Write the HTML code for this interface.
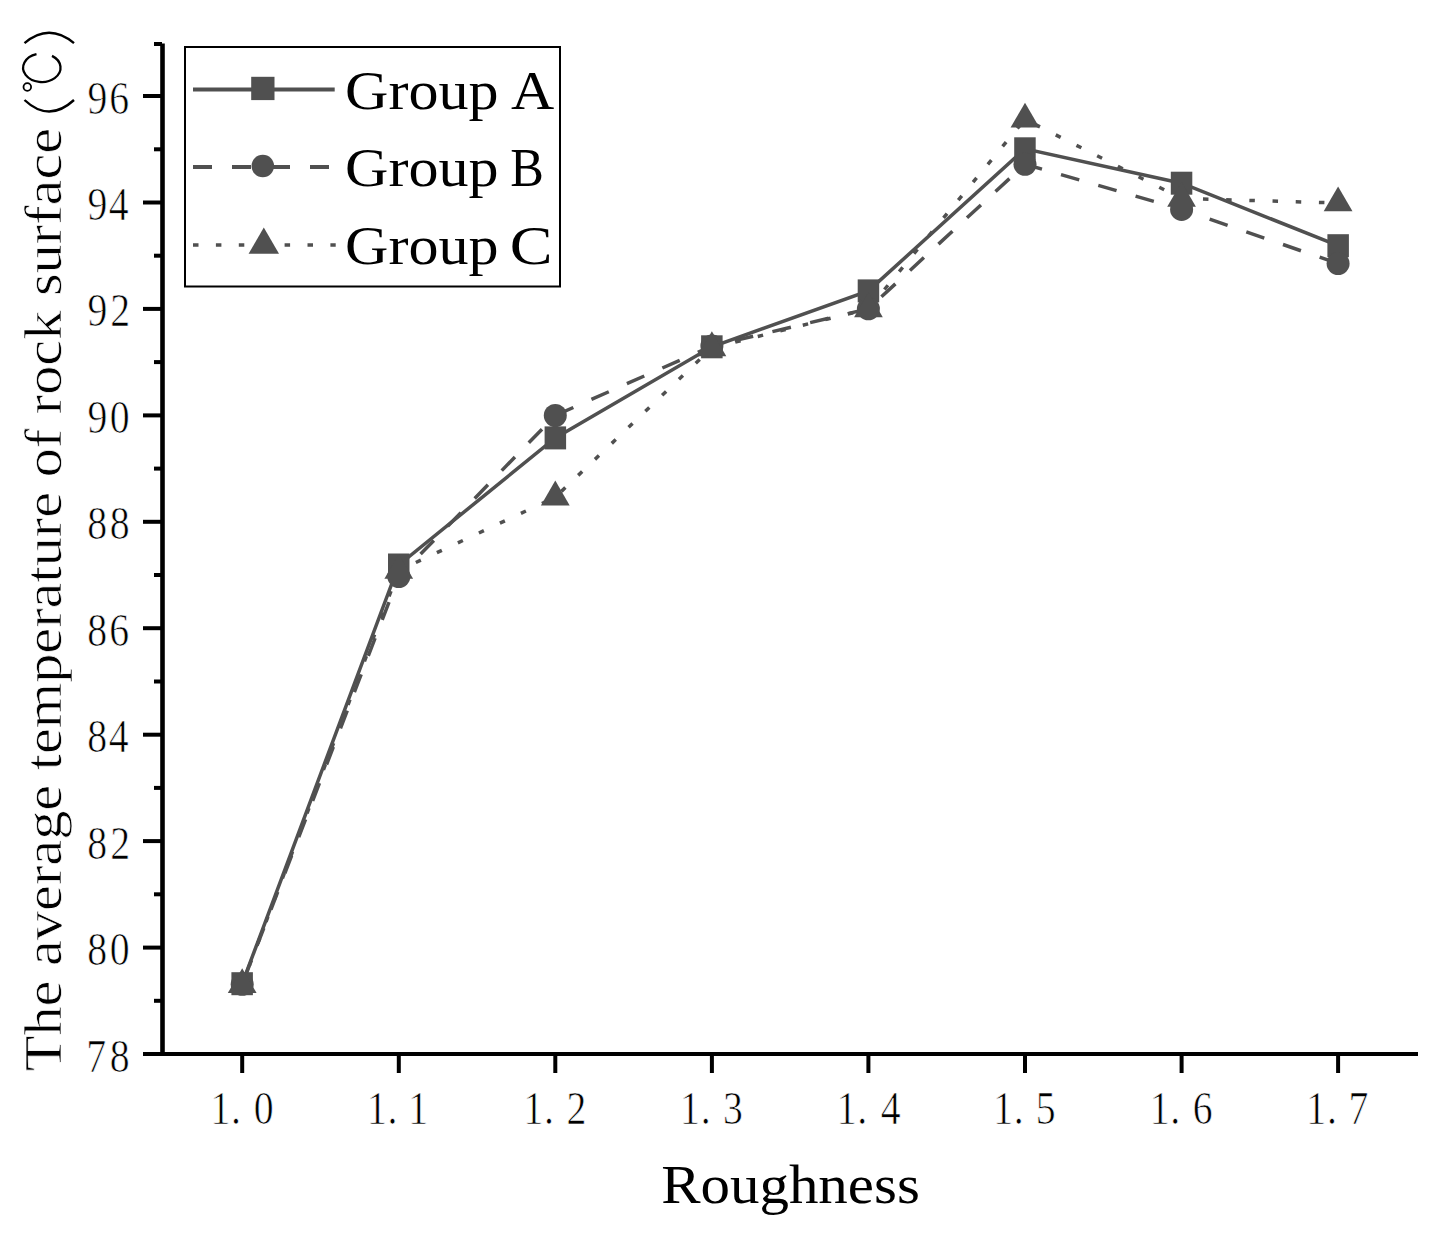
<!DOCTYPE html>
<html><head><meta charset="utf-8"><style>
html,body{margin:0;padding:0;background:#fff;overflow:hidden;}
svg{display:block;}
text{font-family:"Liberation Serif",serif;fill:#000;}
.tk{font-size:46.5px;stroke:#fff;stroke-width:0.7px;}
.lg{font-size:54.0px;}
.ti{font-size:54.0px;}
.yt{font-size:53.0px;stroke:#fff;stroke-width:0.7px;}
</style></head><body>
<svg width="1437" height="1235" viewBox="0 0 1437 1235">
<rect width="1437" height="1235" fill="#fff"/>
<line x1="162.5" y1="43.5" x2="162.5" y2="1056" stroke="#000" stroke-width="4.6"/>
<line x1="143" y1="1054" x2="1418" y2="1054" stroke="#000" stroke-width="4"/>
<line x1="143" y1="1054.0" x2="162" y2="1054.0" stroke="#000" stroke-width="4"/>
<line x1="154" y1="1000.8" x2="162" y2="1000.8" stroke="#000" stroke-width="4"/>
<line x1="143" y1="947.6" x2="162" y2="947.6" stroke="#000" stroke-width="4"/>
<line x1="154" y1="894.3" x2="162" y2="894.3" stroke="#000" stroke-width="4"/>
<line x1="143" y1="841.1" x2="162" y2="841.1" stroke="#000" stroke-width="4"/>
<line x1="154" y1="787.9" x2="162" y2="787.9" stroke="#000" stroke-width="4"/>
<line x1="143" y1="734.7" x2="162" y2="734.7" stroke="#000" stroke-width="4"/>
<line x1="154" y1="681.5" x2="162" y2="681.5" stroke="#000" stroke-width="4"/>
<line x1="143" y1="628.2" x2="162" y2="628.2" stroke="#000" stroke-width="4"/>
<line x1="154" y1="575.0" x2="162" y2="575.0" stroke="#000" stroke-width="4"/>
<line x1="143" y1="521.8" x2="162" y2="521.8" stroke="#000" stroke-width="4"/>
<line x1="154" y1="468.6" x2="162" y2="468.6" stroke="#000" stroke-width="4"/>
<line x1="143" y1="415.4" x2="162" y2="415.4" stroke="#000" stroke-width="4"/>
<line x1="154" y1="362.1" x2="162" y2="362.1" stroke="#000" stroke-width="4"/>
<line x1="143" y1="308.9" x2="162" y2="308.9" stroke="#000" stroke-width="4"/>
<line x1="154" y1="255.7" x2="162" y2="255.7" stroke="#000" stroke-width="4"/>
<line x1="143" y1="202.5" x2="162" y2="202.5" stroke="#000" stroke-width="4"/>
<line x1="154" y1="149.3" x2="162" y2="149.3" stroke="#000" stroke-width="4"/>
<line x1="143" y1="96.0" x2="162" y2="96.0" stroke="#000" stroke-width="4"/>
<line x1="154" y1="44.0" x2="162" y2="44.0" stroke="#000" stroke-width="4"/>
<line x1="242.2" y1="1054" x2="242.2" y2="1073" stroke="#000" stroke-width="4"/>
<line x1="398.8" y1="1054" x2="398.8" y2="1073" stroke="#000" stroke-width="4"/>
<line x1="555.3" y1="1054" x2="555.3" y2="1073" stroke="#000" stroke-width="4"/>
<line x1="711.9" y1="1054" x2="711.9" y2="1073" stroke="#000" stroke-width="4"/>
<line x1="868.4" y1="1054" x2="868.4" y2="1073" stroke="#000" stroke-width="4"/>
<line x1="1025.0" y1="1054" x2="1025.0" y2="1073" stroke="#000" stroke-width="4"/>
<line x1="1181.6" y1="1054" x2="1181.6" y2="1073" stroke="#000" stroke-width="4"/>
<line x1="1338.1" y1="1054" x2="1338.1" y2="1073" stroke="#000" stroke-width="4"/>
<text transform="translate(86.18,1071.5) scale(0.855,1)" class="tk">7</text>
<text transform="translate(109.64,1071.5) scale(0.855,1)" class="tk">8</text>
<text transform="translate(87.29,965.1) scale(0.855,1)" class="tk">8</text>
<text transform="translate(109.64,965.1) scale(0.855,1)" class="tk">0</text>
<text transform="translate(87.29,858.6) scale(0.855,1)" class="tk">8</text>
<text transform="translate(110.31,858.6) scale(0.855,1)" class="tk">2</text>
<text transform="translate(87.29,752.2) scale(0.855,1)" class="tk">8</text>
<text transform="translate(108.74,752.2) scale(0.855,1)" class="tk">4</text>
<text transform="translate(87.29,645.7) scale(0.855,1)" class="tk">8</text>
<text transform="translate(109.31,645.7) scale(0.855,1)" class="tk">6</text>
<text transform="translate(87.29,539.3) scale(0.855,1)" class="tk">8</text>
<text transform="translate(109.64,539.3) scale(0.855,1)" class="tk">8</text>
<text transform="translate(87.52,432.9) scale(0.855,1)" class="tk">9</text>
<text transform="translate(109.64,432.9) scale(0.855,1)" class="tk">0</text>
<text transform="translate(87.52,326.4) scale(0.855,1)" class="tk">9</text>
<text transform="translate(110.31,326.4) scale(0.855,1)" class="tk">2</text>
<text transform="translate(87.52,220.0) scale(0.855,1)" class="tk">9</text>
<text transform="translate(108.74,220.0) scale(0.855,1)" class="tk">4</text>
<text transform="translate(87.52,113.5) scale(0.855,1)" class="tk">9</text>
<text transform="translate(109.31,113.5) scale(0.855,1)" class="tk">6</text>
<text transform="translate(210.41,1123.5) scale(0.855,1)" class="tk">1</text>
<text transform="translate(230.98,1123.5) scale(0.855,1)" class="tk">.</text>
<text transform="translate(253.69,1123.5) scale(0.855,1)" class="tk">0</text>
<text transform="translate(366.97,1123.5) scale(0.855,1)" class="tk">1</text>
<text transform="translate(387.54,1123.5) scale(0.855,1)" class="tk">.</text>
<text transform="translate(408.27,1123.5) scale(0.855,1)" class="tk">1</text>
<text transform="translate(523.53,1123.5) scale(0.855,1)" class="tk">1</text>
<text transform="translate(544.10,1123.5) scale(0.855,1)" class="tk">.</text>
<text transform="translate(566.57,1123.5) scale(0.855,1)" class="tk">2</text>
<text transform="translate(680.09,1123.5) scale(0.855,1)" class="tk">1</text>
<text transform="translate(700.66,1123.5) scale(0.855,1)" class="tk">.</text>
<text transform="translate(722.98,1123.5) scale(0.855,1)" class="tk">3</text>
<text transform="translate(836.65,1123.5) scale(0.855,1)" class="tk">1</text>
<text transform="translate(857.22,1123.5) scale(0.855,1)" class="tk">.</text>
<text transform="translate(880.66,1123.5) scale(0.855,1)" class="tk">4</text>
<text transform="translate(993.21,1123.5) scale(0.855,1)" class="tk">1</text>
<text transform="translate(1013.78,1123.5) scale(0.855,1)" class="tk">.</text>
<text transform="translate(1035.69,1123.5) scale(0.855,1)" class="tk">5</text>
<text transform="translate(1149.77,1123.5) scale(0.855,1)" class="tk">1</text>
<text transform="translate(1170.34,1123.5) scale(0.855,1)" class="tk">.</text>
<text transform="translate(1192.85,1123.5) scale(0.855,1)" class="tk">6</text>
<text transform="translate(1306.33,1123.5) scale(0.855,1)" class="tk">1</text>
<text transform="translate(1326.90,1123.5) scale(0.855,1)" class="tk">.</text>
<text transform="translate(1348.50,1123.5) scale(0.855,1)" class="tk">7</text>
<g shape-rendering="auto">
<polyline points="242.2,983.7 398.8,565.0 555.3,437.9 711.9,346.8 868.4,290.9 1025.0,148.8 1181.6,183.2 1338.1,245.7" fill="none" stroke="#505050" stroke-width="3.5"/>
<polyline points="242.2,984.3 398.8,576.5 555.3,415.5 711.9,346.0 868.4,308.8 1025.0,164.3 1181.6,209.4 1338.1,263.6" fill="none" stroke="#505050" stroke-width="3.5" stroke-dasharray="19 19.8" stroke-dashoffset="-2.5"/>
<polyline points="242.2,984.8 398.8,570.5 555.3,497.2 711.9,347.9 868.4,308.9 1025.0,119.3 1181.6,198.5 1338.1,203.0" fill="none" stroke="#505050" stroke-width="3.5" stroke-dasharray="5.5 17.7" stroke-dashoffset="2.25"/>
<rect x="231.4" y="972.2" width="21.5" height="23" fill="#505050"/>
<circle cx="242.2" cy="984.3" r="11.5" fill="#505050"/>
<polygon points="242.2,968.2 227.8,993.1 256.6,993.1" fill="#505050"/>
<rect x="388.0" y="553.5" width="21.5" height="23" fill="#505050"/>
<circle cx="398.8" cy="576.5" r="11.5" fill="#505050"/>
<polygon points="398.8,553.9 384.4,578.8 413.1,578.8" fill="#505050"/>
<rect x="544.6" y="426.4" width="21.5" height="23" fill="#505050"/>
<circle cx="555.3" cy="415.5" r="11.5" fill="#505050"/>
<polygon points="555.3,480.6 540.9,505.5 569.7,505.5" fill="#505050"/>
<rect x="701.1" y="335.3" width="21.5" height="23" fill="#505050"/>
<circle cx="711.9" cy="346.0" r="11.5" fill="#505050"/>
<polygon points="711.9,331.3 697.5,356.2 726.3,356.2" fill="#505050"/>
<rect x="857.7" y="279.4" width="21.5" height="23" fill="#505050"/>
<circle cx="868.4" cy="308.8" r="11.5" fill="#505050"/>
<polygon points="868.4,292.3 854.1,317.2 882.8,317.2" fill="#505050"/>
<rect x="1014.2" y="137.3" width="21.5" height="23" fill="#505050"/>
<circle cx="1025.0" cy="164.3" r="11.5" fill="#505050"/>
<polygon points="1025.0,102.7 1010.6,127.6 1039.4,127.6" fill="#505050"/>
<rect x="1170.8" y="171.7" width="21.5" height="23" fill="#505050"/>
<circle cx="1181.6" cy="209.4" r="11.5" fill="#505050"/>
<polygon points="1181.6,181.9 1167.2,206.8 1195.9,206.8" fill="#505050"/>
<rect x="1327.4" y="234.2" width="21.5" height="23" fill="#505050"/>
<circle cx="1338.1" cy="263.6" r="11.5" fill="#505050"/>
<polygon points="1338.1,186.4 1323.7,211.3 1352.5,211.3" fill="#505050"/>
</g>
<rect x="185" y="47" width="375" height="239.5" fill="none" stroke="#000" stroke-width="2"/>
<line x1="193" y1="89.5" x2="334.7" y2="89.5" stroke="#505050" stroke-width="4"/>
<rect x="251.2" y="76.8" width="23.3" height="23.3" fill="#505050"/>
<line x1="193" y1="167" x2="334.7" y2="167" stroke="#505050" stroke-width="4" stroke-dasharray="19 20"/>
<circle cx="262.8" cy="166.0" r="11.25" fill="#505050"/>
<line x1="193" y1="245" x2="335.7" y2="245" stroke="#505050" stroke-width="3.6" stroke-dasharray="5.5 17.4"/>
<polygon points="263.8,227.5 248.6,253.8 279.0,253.8" fill="#505050"/>
<text transform="translate(344.97,108.6) scale(1.1135,1)" class="lg">Group</text>
<text transform="translate(511.0,108.6) scale(1.108,1)" class="lg">A</text>
<text transform="translate(344.97,186.4) scale(1.1135,1)" class="lg">Group</text>
<text transform="translate(510.2,186.4) scale(0.933,1)" class="lg">B</text>
<text transform="translate(344.97,264) scale(1.1135,1)" class="lg">Group</text>
<text transform="translate(509.7,264) scale(1.187,1)" class="lg">C</text>
<text transform="translate(661.2,1202.6) scale(1.0914,1)" class="ti">Roughness</text>
<text transform="translate(61,1071.2) rotate(-90) scale(1.1,1)" class="yt">The average temperature of rock surface</text>
<g fill="none" stroke="#000"><path d="M24.5 43.2 Q49 22.4 74 43.2" stroke-width="2.4"/><path d="M24.5 100 Q49 123 74 100" stroke-width="2.4"/><path d="M36.5 54.2 A18.7 14.2 0 1 0 52 55.9" stroke-width="2.3"/><circle cx="27.3" cy="87" r="3.8" stroke-width="1.8"/></g>
</svg></body></html>
